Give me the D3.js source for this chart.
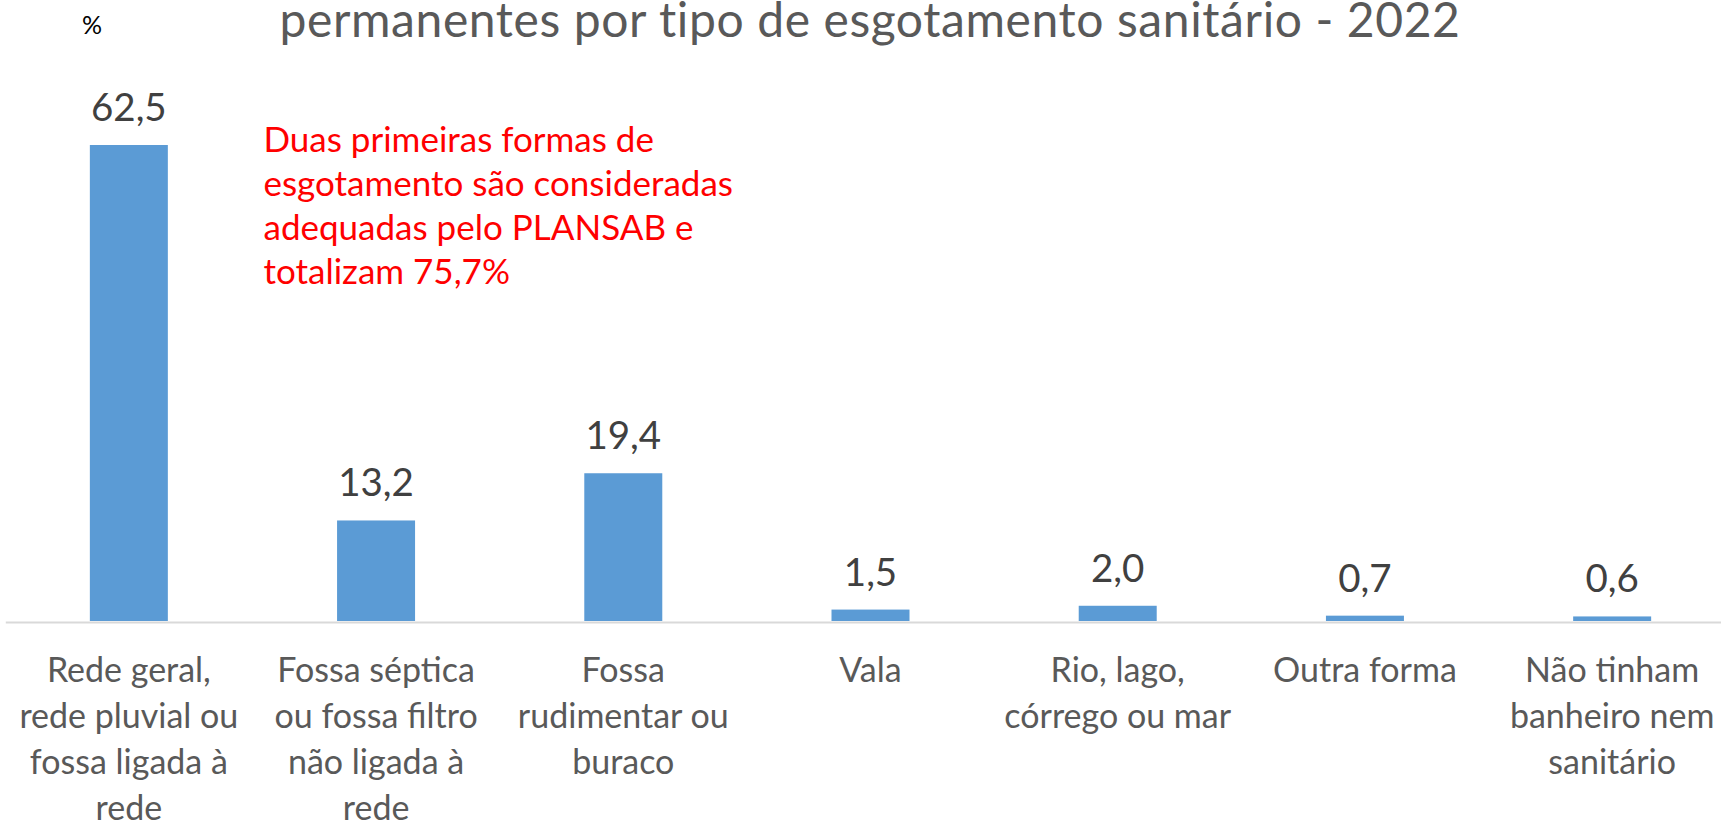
<!DOCTYPE html>
<html>
<head>
<meta charset="utf-8">
<script src="https://cdn.jsdelivr.net/npm/d3@7"></script>
<style>
  html, body { margin: 0; padding: 0; background: #ffffff; overflow: hidden; }
  svg { display: block; font-family: Lato, "Open Sans", sans-serif; }
</style>
</head>
<body>
<svg id="chart" width="1721" height="822"></svg>
<script>
// ---- data ----
const categories = [
  "Rede geral, rede pluvial ou fossa ligada à rede",
  "Fossa séptica ou fossa filtro não ligada à rede",
  "Fossa rudimentar ou buraco",
  "Vala",
  "Rio, lago, córrego ou mar",
  "Outra forma",
  "Não tinham banheiro nem sanitário"
];
const categoryLines = [
  ["Rede geral,", "rede pluvial ou", "fossa ligada à", "rede"],
  ["Fossa séptica", "ou fossa filtro", "não ligada à", "rede"],
  ["Fossa", "rudimentar ou", "buraco"],
  ["Vala"],
  ["Rio, lago,", "córrego ou mar"],
  ["Outra forma"],
  ["Não tinham", "banheiro nem", "sanitário"]
];
const values = [62.5, 13.2, 19.4, 1.5, 2.0, 0.7, 0.6];
const titleText = "permanentes por tipo de esgotamento sanitário - 2022";
const unitLabel = "%";
const noteLines = [
  "Duas primeiras formas de",
  "esgotamento são consideradas",
  "adequadas pelo PLANSAB e",
  "totalizam 75,7%"
];

// ---- layout ----
const svg = d3.select("#chart");
const baseY = 621;
const fmt = v => d3.format(".1f")(v).replace(".", ",");

const x = d3.scaleBand()
  .domain(categories)
  .range([5.3, 1735.7])
  .paddingInner(0.6845)
  .paddingOuter(0.342);

const y = d3.scaleLinear()
  .domain([0, 70])
  .range([baseY, baseY - 70 * 7.616]);

// bars
svg.append("g").selectAll("rect")
  .data(values)
  .join("rect")
  .attr("x", (d, i) => x(categories[i]))
  .attr("width", x.bandwidth())
  .attr("y", d => y(d))
  .attr("height", d => y(0) - y(d))
  .attr("fill", "#5b9bd5");

// axis
const axis = svg.append("g")
  .attr("transform", `translate(0,${baseY + 1})`)
  .call(d3.axisBottom(x).tickSize(0).tickSizeOuter(0).tickFormat(""));
axis.attr("font-family", null).attr("font-size", null);
axis.select(".domain").attr("stroke", "#d9d9d9").attr("stroke-width", 2);

axis.selectAll(".tick text").remove();
axis.selectAll(".tick").each(function(d, i) {
  const t = d3.select(this).append("text")
    .attr("text-anchor", "middle")
    .attr("fill", "#595959")
    .attr("font-family", "Lato, sans-serif")
    .attr("font-size", 34)
    .attr("y", 59.7);
  categoryLines[i].forEach((ln, k) => {
    t.append("tspan").attr("x", 0).attr("dy", k === 0 ? 0 : 46).text(ln);
  });
});

// value labels
svg.append("g").selectAll("text")
  .data(values)
  .join("text")
  .attr("x", (d, i) => x(categories[i]) + x.bandwidth() / 2)
  .attr("y", d => y(d) - 24)
  .attr("text-anchor", "middle")
  .attr("fill", "#404040")
  .attr("font-size", 38.5)
  .text(d => fmt(d));

// title
svg.append("text")
  .attr("x", 870)
  .attr("y", 37)
  .attr("text-anchor", "middle")
  .attr("fill", "#595959")
  .attr("font-size", 48)
  .attr("letter-spacing", 0.6)
  .text(titleText);

// unit
svg.append("text")
  .attr("x", 82)
  .attr("y", 34)
  .attr("fill", "#000000")
  .attr("font-size", 25)
  .text(unitLabel);

// annotation
const note = svg.append("text")
  .attr("x", 263.5)
  .attr("y", 151.7)
  .attr("fill", "#ff0000")
  .attr("font-size", 35);
noteLines.forEach((ln, k) => {
  note.append("tspan").attr("x", 263.5).attr("dy", k === 0 ? 0 : 44.2).text(ln);
});
</script>
</body>
</html>
